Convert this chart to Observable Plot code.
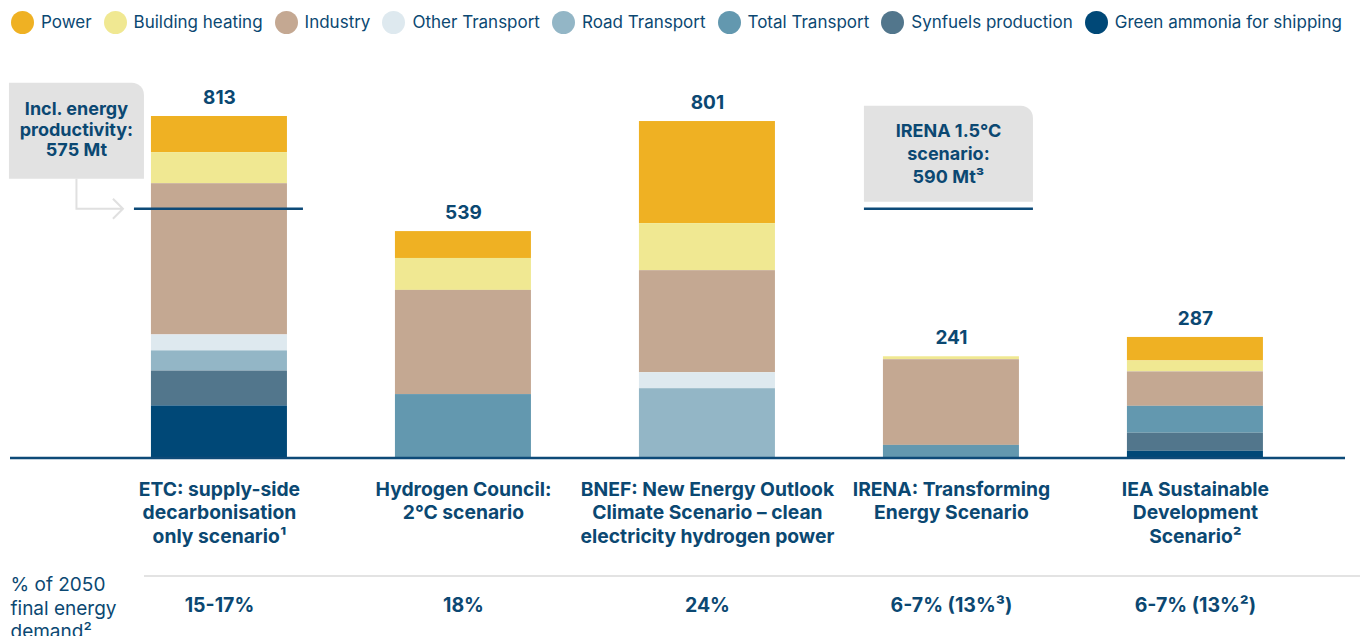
<!DOCTYPE html>
<html>
<head>
<meta charset="utf-8">
<script src="https://cdn.jsdelivr.net/npm/d3@7"></script>
<script src="https://cdn.jsdelivr.net/npm/@observablehq/plot@0.6"></script>
<style>
  html, body { margin: 0; padding: 0; background: #fff; }
  body { width: 1360px; height: 636px; overflow: hidden; font-family: Inter, "Noto Sans", sans-serif; color: #0b4872; }
  #legend { display: flex; align-items: center; height: 44px; padding-left: 11px; font-size: 17px; white-space: nowrap; }
  #legend .item { display: flex; align-items: center; margin-right: 12px; }
  #legend .dot { width: 23px; height: 23px; border-radius: 50%; margin-right: 7px; flex: none; }
</style>
</head>
<body>
<div id="legend"></div>
<div id="chart"></div>
<script>
// ---- data ----
const categories = ["ETC", "Hydrogen Council", "BNEF", "IRENA", "IEA"];
const categoryLabels = [
  "ETC: supply-side\ndecarbonisation\nonly scenario¹",
  "Hydrogen Council:\n2°C scenario",
  "BNEF: New Energy Outlook\nClimate Scenario – clean\nelectricity hydrogen power",
  "IRENA: Transforming\nEnergy Scenario",
  "IEA Sustainable\nDevelopment\nScenario²"
];
const seriesNames = ["Power", "Building heating", "Industry", "Other Transport", "Road Transport", "Total Transport", "Synfuels production", "Green ammonia for shipping"];
const seriesColors = ["#efb123", "#f0e892", "#c4a892", "#dee9ef", "#93b6c6", "#6398af", "#52768c", "#004877"];

const power          = [86, 64, 243, 0, 56];
const buildingHeat   = [74, 76, 112, 7, 26];
const industry       = [360, 248, 243, 204, 82];
const otherTransport = [38, 0, 38, 0, 0];
const roadTransport  = [48, 0, 165, 0, 0];
const totalTransport = [0, 151, 0, 30, 64];
const synfuels       = [83, 0, 0, 0, 43];
const greenAmmonia   = [124, 0, 0, 0, 16];
const totals = [813, 539, 801, 241, 287];
const shareLabels = ["15-17%", "18%", "24%", "6-7% (13%³)", "6-7% (13%²)"];
const shareRowLabel = "% of 2050\nfinal energy\ndemand²";

const annotationCats = ["ETC", "IRENA"];
const annotationTexts = ["Incl. energy\nproductivity:\n575 Mt", "IRENA 1.5°C\nscenario:\n590 Mt³"];
const annotationLevels = [592, 592];

// ---- build table ----
const seriesValues = [power, buildingHeat, industry, otherTransport, roadTransport, totalTransport, synfuels, greenAmmonia];
const rows = [];
seriesNames.forEach((s, i) => categories.forEach((c, j) => rows.push({cat: c, series: s, value: seriesValues[i][j]})));
const stackOrder = seriesNames.slice().reverse();
const labelOf = new Map(categories.map((c, i) => [c, categoryLabels[i]]));

// ---- legend ----
const legend = document.getElementById("legend");
seriesNames.forEach((s, i) => {
  const item = document.createElement("div");
  item.className = "item";
  const dot = document.createElement("span");
  dot.className = "dot";
  dot.style.background = seriesColors[i];
  const t = document.createElement("span");
  t.textContent = s;
  item.appendChild(dot); item.appendChild(t);
  legend.appendChild(item);
});

// ---- annotation layer (uses Plot's scales) ----
function annotationLayer(index, scales) {
  const x = scales.x, y = scales.y;
  const bw = x.bandwidth ? x.bandwidth() : 136;
  const g = d3.create("svg:g");
  const geom = [
    {boxL: -142, boxR: -7, boxT: -126, boxB: -30, lineL: -17, lineR: bw + 16, lh: 20.5, t0: -100, arrow: true},
    {boxL: -19, boxR: bw + 14, boxT: -103, boxB: -7, lineL: -19, lineR: bw + 14, lh: 23, t0: -78, arrow: false}
  ];
  annotationCats.forEach((c, i) => {
    const G = geom[i];
    const x0 = x(c), yl = y(annotationLevels[i]);
    const L = x0 + G.boxL, R = x0 + G.boxR, T = yl + G.boxT, B = yl + G.boxB, r = 12;
    g.append("path")
      .attr("d", `M${L},${T}H${R - r}A${r},${r} 0 0 1 ${R},${T + r}V${B}H${L}Z`)
      .attr("fill", "#e2e2e2");
    const cx = (L + R) / 2;
    const txt = g.append("text").attr("text-anchor", "middle").attr("font-weight", "bold")
      .attr("font-size", 18).attr("fill", "currentColor");
    annotationTexts[i].split("\n").forEach((line, k) => {
      txt.append("tspan").attr("x", cx).attr("y", yl + G.t0 + k * G.lh).attr("dy", "0.35em").text(line);
    });
    if (G.arrow) {
      const tipX = x0 - 28;
      g.append("path").attr("d", `M${cx},${B}V${yl}H${tipX}M${tipX - 10},${yl - 10}L${tipX},${yl}L${tipX - 10},${yl + 10}`)
        .attr("fill", "none").attr("stroke", "#e0e0e0").attr("stroke-width", 2);
    }
    g.append("line").attr("x1", x0 + G.lineL).attr("x2", x0 + G.lineR).attr("y1", yl).attr("y2", yl)
      .attr("stroke", "#0d4a78").attr("stroke-width", 2.5);
  });
  return g.node();
}

const chart = Plot.plot({
  width: 1360,
  height: 592,
  marginTop: 35.45,
  marginBottom: 178.5,
  marginLeft: 10,
  marginRight: 15,
  style: {fontFamily: "Inter, 'Noto Sans', sans-serif", color: "#0b4872", background: "#fff", overflow: "visible"},
  x: {domain: categories, paddingInner: 0.4426, paddingOuter: 0.457, align: 0.632, round: false, axis: null},
  y: {domain: [0, 900], axis: null},
  color: {domain: seriesNames, range: seriesColors},
  marks: [
    Plot.barY(rows, Plot.stackY({x: "cat", y: "value", fill: "series", order: stackOrder})),
    Plot.ruleY([0], {stroke: "#0d4a78", strokeWidth: 2.5}),
    Plot.ruleY([0], {dy: 118, insetLeft: 134, insetRight: -15, stroke: "#e3e3e3", strokeWidth: 2}),
    Plot.text(categories, {x: d => d, y: totals, text: (d, i) => String(totals[i]), dy: -19, fontSize: 19, fontWeight: "bold"}),
    Plot.text(categories, {x: d => d, frameAnchor: "bottom", text: d => labelOf.get(d), lineAnchor: "top", dy: 21, fontSize: 19.3, fontWeight: "bold", lineHeight: 1.22}),
    Plot.text(categories, {x: d => d, frameAnchor: "bottom", text: (d, i) => shareLabels[i], dy: 154, fontSize: 19.5, fontWeight: "bold"}),
    Plot.text([shareRowLabel], {frameAnchor: "bottom-left", text: d => d, textAnchor: "start", lineAnchor: "middle", dy: 149, fontSize: 19, lineHeight: 1.24}),
    annotationLayer
  ]
});
document.getElementById("chart").appendChild(chart);
</script>
</body>
</html>
